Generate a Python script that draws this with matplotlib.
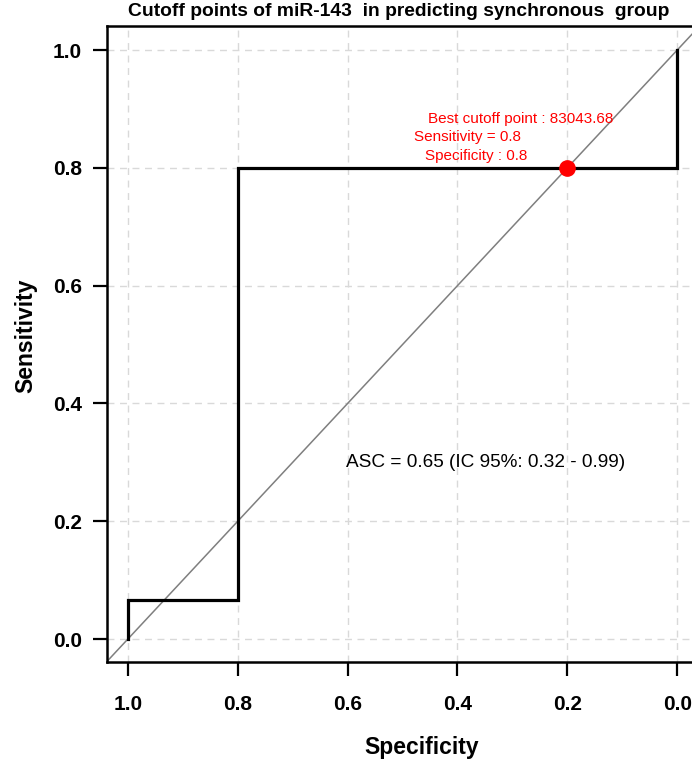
import numpy as np
import matplotlib
matplotlib.use('Agg')
import matplotlib.pyplot as plt

plt.rcParams['font.family'] = ['Liberation Sans', 'DejaVu Sans']

# ROC curve (specificity, sensitivity)
specificity = [1.0, 1.0, 0.8, 0.8, 0.0, 0.0]
sensitivity = [0.0, 0.067, 0.067, 0.8, 0.8, 1.0]

best_spec = 0.2
best_sens = 0.8
best_threshold = 83043.68
auc = 0.65
ci_low, ci_high = 0.32, 0.99

ticks = [0.0, 0.2, 0.4, 0.6, 0.8, 1.0]
tick_labels = ['0.0', '0.2', '0.4', '0.6', '0.8', '1.0']


def main():
    fig = plt.figure(figsize=(6.92, 7.66), dpi=100)
    ax = fig.add_axes([107/692, 104/766, 591/692, 636/766])

    ax.set_xlim(1.038, -0.038)
    ax.set_ylim(-0.039, 1.041)

    # grid
    for t in ticks:
        ax.axvline(t, color='#d9d9d9', lw=1, ls=(0, (5, 4)), zorder=0)
        ax.axhline(t, color='#d9d9d9', lw=1, ls=(0, (5, 4)), zorder=0)

    # chance diagonal
    ax.axline((1, 0), (0, 1), color='#7f7f7f', lw=1.1, zorder=1)

    # ROC curve
    ax.plot(specificity, sensitivity, color='black', lw=2.3, zorder=2,
            solid_joinstyle='miter')

    # best cutoff
    ax.plot([best_spec], [best_sens], 'o', color='red', ms=11, zorder=3)
    ax.text(0.284, 0.883, 'Best cutoff point : %.2f' % best_threshold,
            color='red', ha='center', va='center', fontsize=11)
    ax.text(0.381, 0.852, 'Sensitivity = %.1f' % best_sens,
            color='red', ha='center', va='center', fontsize=11)
    ax.text(0.366, 0.820, 'Specificity : %.1f' % (1 - best_spec),
            color='red', ha='center', va='center', fontsize=11)

    ax.text(0.348, 0.299, 'ASC = %.2f (IC 95%%: %.2f - %.2f)' % (auc, ci_low, ci_high),
            color='black', ha='center', va='center', fontsize=13.7)

    ax.set_xticks(ticks)
    ax.set_xticklabels(tick_labels, fontweight='bold', fontsize=15)
    ax.set_yticks(ticks)
    ax.set_yticklabels(tick_labels, fontweight='bold', fontsize=15)
    ax.tick_params(length=10, width=1.6)
    ax.tick_params(axis='x', pad=14)
    ax.tick_params(axis='y', pad=8)
    for s in ax.spines.values():
        s.set_linewidth(1.8)

    ax.set_xlabel('Specificity', fontweight='bold', fontsize=16.5)
    ax.xaxis.set_label_coords((422 - 107) / 591, -74 / 636)
    ax.set_ylabel('Sensitivity', fontweight='bold', fontsize=16.5)
    ax.yaxis.set_label_coords(-70 / 591, (662 - 336) / 636)

    fig.text(399/692, 1 - 12/766, 'Cutoff points of miR-143  in predicting synchronous  group',
             ha='center', va='center', fontweight='bold', fontsize=13.9)

    fig.savefig('out.png', dpi=100)
    plt.close(fig)


if __name__ == "__main__":
    main()
